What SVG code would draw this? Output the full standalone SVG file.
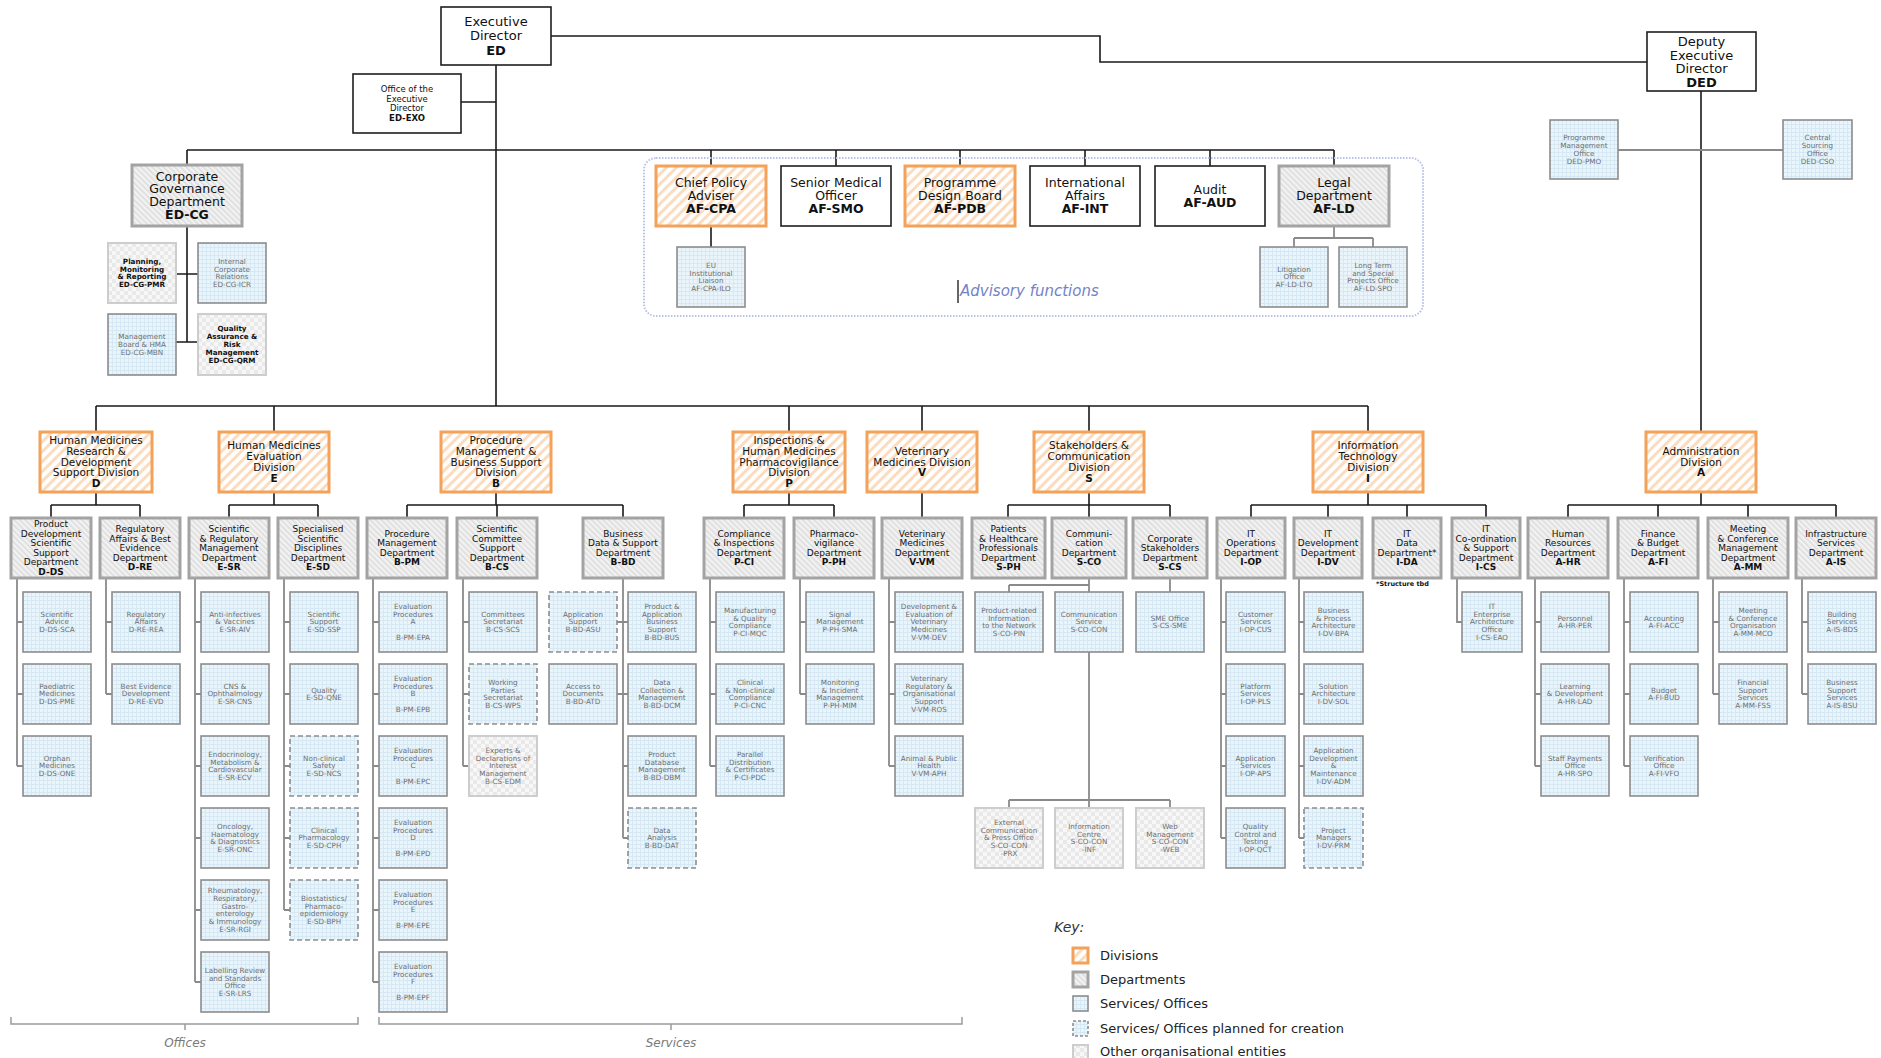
<svg xmlns="http://www.w3.org/2000/svg" width="1881" height="1058" viewBox="0 0 1881 1058">
<defs>
<pattern id="pDiv" patternUnits="userSpaceOnUse" width="7" height="7" patternTransform="rotate(45)"><rect width="7" height="7" fill="#fff"/><rect width="3" height="7" fill="#fcdcbf"/></pattern>
<pattern id="pDep" patternUnits="userSpaceOnUse" width="4" height="4" patternTransform="rotate(-45)"><rect width="4" height="4" fill="#f2f2f2"/><rect width="1.6" height="4" fill="#dddddd"/></pattern>
<pattern id="pSvc" patternUnits="userSpaceOnUse" width="4" height="4"><rect width="4" height="4" fill="#eaf5fb"/><path d="M0 .5H4M.5 0V4" stroke="#d5e8f3" stroke-width="1"/></pattern>
<pattern id="pOth" patternUnits="userSpaceOnUse" width="8" height="8"><rect width="8" height="8" fill="#f7f7f7"/><rect width="4" height="4" fill="#e9e9e9"/><rect x="4" y="4" width="4" height="4" fill="#e9e9e9"/></pattern>
</defs>
<style>
text{font-family:"DejaVu Sans",Verdana,sans-serif;text-anchor:middle}
.tp{fill:#fff;stroke:#1e1e1e;stroke-width:1.6}
.dv{fill:url(#pDiv);stroke:#f4a25a;stroke-width:3}
.dp{fill:url(#pDep);stroke:#a3a3a3;stroke-width:3}
.sv{fill:url(#pSvc);stroke:#8d8d8d;stroke-width:1.6}
.pl{fill:url(#pSvc);stroke:#8d8d8d;stroke-width:1.6;stroke-dasharray:5 3}
.ot{fill:url(#pOth);stroke:#cdcdcd;stroke-width:2}
.t13{font-size:13px;fill:#111}
.t12{font-size:12.5px;fill:#111}
.t9{font-size:8.5px;fill:#111}
.tdv{font-size:10.5px;fill:#111}
.tdp{font-size:9px;fill:#111}
.ts{font-size:7.2px;fill:#6e6e6e}
.tk{font-size:7.2px;fill:#111;font-weight:bold}
.b{font-weight:bold}
.c{stroke:#1a1a1a;stroke-width:1.6;fill:none}
.s{stroke:#8a8a8a;stroke-width:1.8;fill:none}
.br{stroke:#9c9c9c;stroke-width:1.5;fill:none}
.it{font-style:italic}
.lg{font-size:13px;fill:#222;text-anchor:start}
</style>

<g id="connectors">
<path class="c" d="M496 65V406M461 102H496M551 36H1100V62H1647M187 150H1334M187 150V165M711 150V166M836 150V166M960 150V166M1085 150V166M1210 150V166M1334 150V166M187 226V342M176 274H198M176 342H198M711 226V247M1701 91V432"/>
<path class="s" d="M1334 226V238M1294 238H1373M1294 238V247M1373 238V247M1618 150H1783"/>
<path class="c" d="M96 406H1368M96 406V432M274 406V432M789 406V432M922 406V432M1089 406V432M1368 406V432"/>
<path class="c" d="M96 492V505M51 505H140M51 505V518M140 505V518M274 492V505M229 505H318M229 505V518M318 505V518M496 492V505M407 505H623M407 505V518M497 505V518M623 505V518M789 492V505M744 505H834M744 505V518M834 505V518M922 492V518M1089 492V505M1008 505H1170M1008 505V518M1089 505V518M1170 505V518M1368 492V505M1251 505H1486M1251 505V518M1328 505V518M1407 505V518M1486 505V518M1701 492V505M1568 505H1836M1568 505V518M1658 505V518M1748 505V518M1836 505V518"/>
<path class="s" d="M17 578V766M17 622H23M17 694H23M17 766H23M106 578V694M106 622H112M106 694H112M195 578V982M195 622H201M195 694H201M195 766H201M195 838H201M195 910H201M195 982H201M284 578V910M284 622H290M284 694H290M284 766H290M284 838H290M284 910H290M373 578V982M373 622H379M373 694H379M373 766H379M373 838H379M373 910H379M373 982H379M463 578V766M463 622H469M463 694H469M463 766H469M623 578V838M623 622H628M623 694H628M623 766H628M623 838H628M617 622H623M617 694H623M710 578V766M710 622H716M710 694H716M710 766H716M800 578V694M800 622H806M800 694H806M889 578V766M889 622H895M889 694H895M889 766H895M1089 578V592M1009 585H1089M1009 585V592M1089 652V808M1009 800H1170M1009 800V808M1170 800V808M1170 578V592M1221 578V838M1221 622H1226M1221 694H1226M1221 766H1226M1221 838H1226M1299 578V838M1299 622H1304M1299 694H1304M1299 766H1304M1299 838H1304M1457 578V622H1462M1535 578V766M1535 622H1541M1535 694H1541M1535 766H1541M1624 578V766M1624 622H1630M1624 694H1630M1624 766H1630M1713 578V694M1713 622H1719M1713 694H1719M1802 578V694M1802 622H1808M1802 694H1808"/>
</g>

<!-- top level -->
<g id="n-ED" transform="translate(441,7)"><rect class="tp" width="110" height="58"/><text class="t13" y="18.5"><tspan x="55">Executive</tspan><tspan x="55" dy="14.5">Director</tspan><tspan x="55" dy="14.5" class="b">ED</tspan></text></g>
<g id="n-ED-EXO" transform="translate(353,74)"><rect class="tp" width="108" height="59"/><text class="t9" y="18"><tspan x="54">Office of the</tspan><tspan x="54" dy="9.5">Executive</tspan><tspan x="54" dy="9.5">Director</tspan><tspan x="54" dy="9.5" class="b">ED-EXO</tspan></text></g>
<g id="n-DED" transform="translate(1647,32)"><rect class="tp" width="109" height="59"/><text class="t13" y="14"><tspan x="54.5">Deputy</tspan><tspan x="54.5" dy="13.6">Executive</tspan><tspan x="54.5" dy="13.6">Director</tspan><tspan x="54.5" dy="13.6" class="b">DED</tspan></text></g>
<g id="n-DED-PMO" transform="translate(1550,120)"><rect class="sv" width="68" height="59"/><text class="ts" y="20.2"><tspan x="34">Programme</tspan><tspan x="34" dy="7.8">Management</tspan><tspan x="34" dy="7.8">Office</tspan><tspan x="34" dy="7.8">DED-PMO</tspan></text></g>
<g id="n-DED-CSO" transform="translate(1783,120)"><rect class="sv" width="69" height="59"/><text class="ts" y="20.2"><tspan x="34.5">Central</tspan><tspan x="34.5" dy="7.8">Sourcing</tspan><tspan x="34.5" dy="7.8">Office</tspan><tspan x="34.5" dy="7.8">DED-CSO</tspan></text></g>

<g id="n-ED-CG" transform="translate(132,165)"><rect class="dp" width="110" height="61"/><text class="t12" y="15.5"><tspan x="55">Corporate</tspan><tspan x="55" dy="12.8">Governance</tspan><tspan x="55" dy="12.8">Department</tspan><tspan x="55" dy="12.8" class="b">ED-CG</tspan></text></g>
<g id="n-ED-CG-PMR" transform="translate(108,243)"><rect class="ot" width="68" height="60"/><text class="tk" y="20.7"><tspan x="34">Planning,</tspan><tspan x="34" dy="7.8">Monitoring</tspan><tspan x="34" dy="7.8">&amp; Reporting</tspan><tspan x="34" dy="7.8">ED-CG-PMR</tspan></text></g>
<g id="n-ED-CG-ICR" transform="translate(198,243)"><rect class="sv" width="68" height="60"/><text class="ts" y="20.7"><tspan x="34">Internal</tspan><tspan x="34" dy="7.8">Corporate</tspan><tspan x="34" dy="7.8">Relations</tspan><tspan x="34" dy="7.8">ED-CG-ICR</tspan></text></g>
<g id="n-ED-CG-MBN" transform="translate(108,314)"><rect class="sv" width="68" height="61"/><text class="ts" y="25"><tspan x="34">Management</tspan><tspan x="34" dy="7.8">Board &amp; HMA</tspan><tspan x="34" dy="7.8">ED-CG-MBN</tspan></text></g>
<g id="n-ED-CG-QRM" transform="translate(198,314)"><rect class="ot" width="68" height="61"/><text class="tk" y="17.3"><tspan x="34">Quality</tspan><tspan x="34" dy="7.8">Assurance &amp;</tspan><tspan x="34" dy="7.8">Risk</tspan><tspan x="34" dy="7.8">Management</tspan><tspan x="34" dy="7.8">ED-CG-QRM</tspan></text></g>

<!-- advisory -->
<g id="advisory">
<rect x="644" y="158" width="779" height="158" rx="12" fill="none" stroke="#b9c1e6" stroke-width="2" stroke-dasharray="1.5 1.5"/>
<text x="960" y="296" class="it" style="font-size:15px;fill:#7383c9;text-anchor:start">Advisory functions</text>
<path d="M958 280V303" stroke="#333" stroke-width="1.5"/>
</g>
<g id="n-AF-CPA" transform="translate(656,166)"><rect class="dv" width="110" height="60"/><text class="t12" y="21"><tspan x="55">Chief Policy</tspan><tspan x="55" dy="13">Adviser</tspan><tspan x="55" dy="13" class="b">AF-CPA</tspan></text></g>
<g id="n-AF-SMO" transform="translate(781,166)"><rect class="tp" width="110" height="60"/><text class="t12" y="21"><tspan x="55">Senior Medical</tspan><tspan x="55" dy="13">Officer</tspan><tspan x="55" dy="13" class="b">AF-SMO</tspan></text></g>
<g id="n-AF-PDB" transform="translate(905,166)"><rect class="dv" width="110" height="60"/><text class="t12" y="21"><tspan x="55">Programme</tspan><tspan x="55" dy="13">Design Board</tspan><tspan x="55" dy="13" class="b">AF-PDB</tspan></text></g>
<g id="n-AF-INT" transform="translate(1030,166)"><rect class="tp" width="110" height="60"/><text class="t12" y="21"><tspan x="55">International</tspan><tspan x="55" dy="13">Affairs</tspan><tspan x="55" dy="13" class="b">AF-INT</tspan></text></g>
<g id="n-AF-AUD" transform="translate(1155,166)"><rect class="tp" width="110" height="60"/><text class="t12" y="28"><tspan x="55">Audit</tspan><tspan x="55" dy="13" class="b">AF-AUD</tspan></text></g>
<g id="n-AF-LD" transform="translate(1279,166)"><rect class="dp" width="110" height="60"/><text class="t12" y="21"><tspan x="55">Legal</tspan><tspan x="55" dy="13">Department</tspan><tspan x="55" dy="13" class="b">AF-LD</tspan></text></g>
<g id="n-AF-CPA-ILO" transform="translate(677,247)"><rect class="sv" width="68" height="60"/><text class="ts" y="20.7"><tspan x="34">EU</tspan><tspan x="34" dy="7.8">Institutional</tspan><tspan x="34" dy="7.8">Liaison</tspan><tspan x="34" dy="7.8">AF-CPA-ILO</tspan></text></g>
<g id="n-AF-LD-LTO" transform="translate(1260,247)"><rect class="sv" width="68" height="60"/><text class="ts" y="24.6"><tspan x="34">Litigation</tspan><tspan x="34" dy="7.8">Office</tspan><tspan x="34" dy="7.8">AF-LD-LTO</tspan></text></g>
<g id="n-AF-LD-SPO" transform="translate(1339,247)"><rect class="sv" width="68" height="60"/><text class="ts" y="20.7"><tspan x="34">Long Term</tspan><tspan x="34" dy="7.8">and Special</tspan><tspan x="34" dy="7.8">Projects Office</tspan><tspan x="34" dy="7.8">AF-LD-SPO</tspan></text></g>

<!-- divisions -->
<g id="n-D" transform="translate(40,432)"><rect class="dv" width="112" height="60"/><text class="tdv" y="11.9"><tspan x="56">Human Medicines</tspan><tspan x="56" dy="10.8">Research &amp;</tspan><tspan x="56" dy="10.8">Development</tspan><tspan x="56" dy="10.8">Support Division</tspan><tspan x="56" dy="10.8" class="b">D</tspan></text></g>
<g id="n-E" transform="translate(219,432)"><rect class="dv" width="110" height="60"/><text class="tdv" y="17.3"><tspan x="55">Human Medicines</tspan><tspan x="55" dy="10.8">Evaluation</tspan><tspan x="55" dy="10.8">Division</tspan><tspan x="55" dy="10.8" class="b">E</tspan></text></g>
<g id="n-B" transform="translate(441,432)"><rect class="dv" width="110" height="60"/><text class="tdv" y="11.9"><tspan x="55">Procedure</tspan><tspan x="55" dy="10.8">Management &amp;</tspan><tspan x="55" dy="10.8">Business Support</tspan><tspan x="55" dy="10.8">Division</tspan><tspan x="55" dy="10.8" class="b">B</tspan></text></g>
<g id="n-P" transform="translate(733,432)"><rect class="dv" width="112" height="60"/><text class="tdv" y="11.9"><tspan x="56">Inspections &amp;</tspan><tspan x="56" dy="10.8">Human Medicines</tspan><tspan x="56" dy="10.8">Pharmacovigilance</tspan><tspan x="56" dy="10.8">Division</tspan><tspan x="56" dy="10.8" class="b">P</tspan></text></g>
<g id="n-V" transform="translate(867,432)"><rect class="dv" width="110" height="60"/><text class="tdv" y="22.7"><tspan x="55">Veterinary</tspan><tspan x="55" dy="10.8">Medicines Division</tspan><tspan x="55" dy="10.8" class="b">V</tspan></text></g>
<g id="n-S" transform="translate(1034,432)"><rect class="dv" width="110" height="60"/><text class="tdv" y="17.3"><tspan x="55">Stakeholders &amp;</tspan><tspan x="55" dy="10.8">Communication</tspan><tspan x="55" dy="10.8">Division</tspan><tspan x="55" dy="10.8" class="b">S</tspan></text></g>
<g id="n-I" transform="translate(1313,432)"><rect class="dv" width="110" height="60"/><text class="tdv" y="17.3"><tspan x="55">Information</tspan><tspan x="55" dy="10.8">Technology</tspan><tspan x="55" dy="10.8">Division</tspan><tspan x="55" dy="10.8" class="b">I</tspan></text></g>
<g id="n-A" transform="translate(1646,432)"><rect class="dv" width="110" height="60"/><text class="tdv" y="22.7"><tspan x="55">Administration</tspan><tspan x="55" dy="10.8">Division</tspan><tspan x="55" dy="10.8" class="b">A</tspan></text></g>

<!-- departments -->
<g id="n-D-DS" transform="translate(11,518)"><rect class="dp" width="80" height="60"/><text class="tdp" y="9.3"><tspan x="40">Product</tspan><tspan x="40" dy="9.5">Development</tspan><tspan x="40" dy="9.5">Scientific</tspan><tspan x="40" dy="9.5">Support</tspan><tspan x="40" dy="9.5">Department</tspan><tspan x="40" dy="9.5" class="b">D-DS</tspan></text></g>
<g id="n-D-RE" transform="translate(100,518)"><rect class="dp" width="80" height="60"/><text class="tdp" y="14"><tspan x="40">Regulatory</tspan><tspan x="40" dy="9.5">Affairs &amp; Best</tspan><tspan x="40" dy="9.5">Evidence</tspan><tspan x="40" dy="9.5">Department</tspan><tspan x="40" dy="9.5" class="b">D-RE</tspan></text></g>
<g id="n-E-SR" transform="translate(189,518)"><rect class="dp" width="80" height="60"/><text class="tdp" y="14"><tspan x="40">Scientific</tspan><tspan x="40" dy="9.5">&amp; Regulatory</tspan><tspan x="40" dy="9.5">Management</tspan><tspan x="40" dy="9.5">Department</tspan><tspan x="40" dy="9.5" class="b">E-SR</tspan></text></g>
<g id="n-E-SD" transform="translate(278,518)"><rect class="dp" width="80" height="60"/><text class="tdp" y="14"><tspan x="40">Specialised</tspan><tspan x="40" dy="9.5">Scientific</tspan><tspan x="40" dy="9.5">Disciplines</tspan><tspan x="40" dy="9.5">Department</tspan><tspan x="40" dy="9.5" class="b">E-SD</tspan></text></g>
<g id="n-B-PM" transform="translate(367,518)"><rect class="dp" width="80" height="60"/><text class="tdp" y="18.8"><tspan x="40">Procedure</tspan><tspan x="40" dy="9.5">Management</tspan><tspan x="40" dy="9.5">Department</tspan><tspan x="40" dy="9.5" class="b">B-PM</tspan></text></g>
<g id="n-B-CS" transform="translate(457,518)"><rect class="dp" width="80" height="60"/><text class="tdp" y="14"><tspan x="40">Scientific</tspan><tspan x="40" dy="9.5">Committee</tspan><tspan x="40" dy="9.5">Support</tspan><tspan x="40" dy="9.5">Department</tspan><tspan x="40" dy="9.5" class="b">B-CS</tspan></text></g>
<g id="n-B-BD" transform="translate(583,518)"><rect class="dp" width="80" height="60"/><text class="tdp" y="18.8"><tspan x="40">Business</tspan><tspan x="40" dy="9.5">Data &amp; Support</tspan><tspan x="40" dy="9.5">Department</tspan><tspan x="40" dy="9.5" class="b">B-BD</tspan></text></g>
<g id="n-P-CI" transform="translate(704,518)"><rect class="dp" width="80" height="60"/><text class="tdp" y="18.8"><tspan x="40">Compliance</tspan><tspan x="40" dy="9.5">&amp; Inspections</tspan><tspan x="40" dy="9.5">Department</tspan><tspan x="40" dy="9.5" class="b">P-CI</tspan></text></g>
<g id="n-P-PH" transform="translate(794,518)"><rect class="dp" width="80" height="60"/><text class="tdp" y="18.8"><tspan x="40">Pharmaco-</tspan><tspan x="40" dy="9.5">vigilance</tspan><tspan x="40" dy="9.5">Department</tspan><tspan x="40" dy="9.5" class="b">P-PH</tspan></text></g>
<g id="n-V-VM" transform="translate(882,518)"><rect class="dp" width="80" height="60"/><text class="tdp" y="18.8"><tspan x="40">Veterinary</tspan><tspan x="40" dy="9.5">Medicines</tspan><tspan x="40" dy="9.5">Department</tspan><tspan x="40" dy="9.5" class="b">V-VM</tspan></text></g>
<g id="n-S-PH" transform="translate(972,518)"><rect class="dp" width="73" height="60"/><text class="tdp" y="14"><tspan x="36.5">Patients</tspan><tspan x="36.5" dy="9.5">&amp; Healthcare</tspan><tspan x="36.5" dy="9.5">Professionals</tspan><tspan x="36.5" dy="9.5">Department</tspan><tspan x="36.5" dy="9.5" class="b">S-PH</tspan></text></g>
<g id="n-S-CO" transform="translate(1052,518)"><rect class="dp" width="74" height="60"/><text class="tdp" y="18.8"><tspan x="37">Communi-</tspan><tspan x="37" dy="9.5">cation</tspan><tspan x="37" dy="9.5">Department</tspan><tspan x="37" dy="9.5" class="b">S-CO</tspan></text></g>
<g id="n-S-CS" transform="translate(1133,518)"><rect class="dp" width="74" height="60"/><text class="tdp" y="23.5"><tspan x="37">Corporate</tspan><tspan x="37" dy="9.5">Stakeholders</tspan><tspan x="37" dy="9.5">Department</tspan><tspan x="37" dy="9.5" class="b">S-CS</tspan></text></g>
<g id="n-I-OP" transform="translate(1217,518)"><rect class="dp" width="68" height="60"/><text class="tdp" y="18.8"><tspan x="34">IT</tspan><tspan x="34" dy="9.5">Operations</tspan><tspan x="34" dy="9.5">Department</tspan><tspan x="34" dy="9.5" class="b">I-OP</tspan></text></g>
<g id="n-I-DV" transform="translate(1294,518)"><rect class="dp" width="68" height="60"/><text class="tdp" y="18.8"><tspan x="34">IT</tspan><tspan x="34" dy="9.5">Development</tspan><tspan x="34" dy="9.5">Department</tspan><tspan x="34" dy="9.5" class="b">I-DV</tspan></text></g>
<g id="n-I-DA" transform="translate(1373,518)"><rect class="dp" width="68" height="60"/><text class="tdp" y="18.8"><tspan x="34">IT</tspan><tspan x="34" dy="9.5">Data</tspan><tspan x="34" dy="9.5">Department*</tspan><tspan x="34" dy="9.5" class="b">I-DA</tspan></text><text x="3" y="68" style="font-size:6.5px;font-weight:bold;fill:#111;text-anchor:start">*Structure tbd</text></g>
<g id="n-I-CS" transform="translate(1452,518)"><rect class="dp" width="68" height="60"/><text class="tdp" y="14"><tspan x="34">IT</tspan><tspan x="34" dy="9.5">Co-ordination</tspan><tspan x="34" dy="9.5">&amp; Support</tspan><tspan x="34" dy="9.5">Department</tspan><tspan x="34" dy="9.5" class="b">I-CS</tspan></text></g>
<g id="n-A-HR" transform="translate(1528,518)"><rect class="dp" width="80" height="60"/><text class="tdp" y="18.8"><tspan x="40">Human</tspan><tspan x="40" dy="9.5">Resources</tspan><tspan x="40" dy="9.5">Department</tspan><tspan x="40" dy="9.5" class="b">A-HR</tspan></text></g>
<g id="n-A-FI" transform="translate(1618,518)"><rect class="dp" width="80" height="60"/><text class="tdp" y="18.8"><tspan x="40">Finance</tspan><tspan x="40" dy="9.5">&amp; Budget</tspan><tspan x="40" dy="9.5">Department</tspan><tspan x="40" dy="9.5" class="b">A-FI</tspan></text></g>
<g id="n-A-MM" transform="translate(1708,518)"><rect class="dp" width="80" height="60"/><text class="tdp" y="14"><tspan x="40">Meeting</tspan><tspan x="40" dy="9.5">&amp; Conference</tspan><tspan x="40" dy="9.5">Management</tspan><tspan x="40" dy="9.5">Department</tspan><tspan x="40" dy="9.5" class="b">A-MM</tspan></text></g>
<g id="n-A-IS" transform="translate(1796,518)"><rect class="dp" width="80" height="60"/><text class="tdp" y="18.8"><tspan x="40">Infrastructure</tspan><tspan x="40" dy="9.5">Services</tspan><tspan x="40" dy="9.5">Department</tspan><tspan x="40" dy="9.5" class="b">A-IS</tspan></text></g>

<!-- services D -->
<g id="n-D-DS-SCA" transform="translate(23,592)"><rect class="sv" width="68" height="60"/><text class="ts" y="24.6"><tspan x="34">Scientific</tspan><tspan x="34" dy="7.8">Advice</tspan><tspan x="34" dy="7.8">D-DS-SCA</tspan></text></g>
<g id="n-D-DS-PME" transform="translate(23,664)"><rect class="sv" width="68" height="60"/><text class="ts" y="24.6"><tspan x="34">Paediatric</tspan><tspan x="34" dy="7.8">Medicines</tspan><tspan x="34" dy="7.8">D-DS-PME</tspan></text></g>
<g id="n-D-DS-ONE" transform="translate(23,736)"><rect class="sv" width="68" height="60"/><text class="ts" y="24.6"><tspan x="34">Orphan</tspan><tspan x="34" dy="7.8">Medicines</tspan><tspan x="34" dy="7.8">D-DS-ONE</tspan></text></g>
<g id="n-D-RE-REA" transform="translate(112,592)"><rect class="sv" width="68" height="60"/><text class="ts" y="24.6"><tspan x="34">Regulatory</tspan><tspan x="34" dy="7.8">Affairs</tspan><tspan x="34" dy="7.8">D-RE-REA</tspan></text></g>
<g id="n-D-RE-EVD" transform="translate(112,664)"><rect class="sv" width="68" height="60"/><text class="ts" y="24.6"><tspan x="34">Best Evidence</tspan><tspan x="34" dy="7.8">Development</tspan><tspan x="34" dy="7.8">D-RE-EVD</tspan></text></g>
<!-- E -->
<g id="n-E-SR-AIV" transform="translate(201,592)"><rect class="sv" width="68" height="60"/><text class="ts" y="24.6"><tspan x="34">Anti-infectives</tspan><tspan x="34" dy="7.8">&amp; Vaccines</tspan><tspan x="34" dy="7.8">E-SR-AIV</tspan></text></g>
<g id="n-E-SR-CNS" transform="translate(201,664)"><rect class="sv" width="68" height="60"/><text class="ts" y="24.6"><tspan x="34">CNS &amp;</tspan><tspan x="34" dy="7.8">Ophthalmology</tspan><tspan x="34" dy="7.8">E-SR-CNS</tspan></text></g>
<g id="n-E-SR-ECV" transform="translate(201,736)"><rect class="sv" width="68" height="60"/><text class="ts" y="20.7"><tspan x="34">Endocrinology,</tspan><tspan x="34" dy="7.8">Metabolism &amp;</tspan><tspan x="34" dy="7.8">Cardiovascular</tspan><tspan x="34" dy="7.8">E-SR-ECV</tspan></text></g>
<g id="n-E-SR-ONC" transform="translate(201,808)"><rect class="sv" width="68" height="60"/><text class="ts" y="20.7"><tspan x="34">Oncology,</tspan><tspan x="34" dy="7.8">Haematology</tspan><tspan x="34" dy="7.8">&amp; Diagnostics</tspan><tspan x="34" dy="7.8">E-SR-ONC</tspan></text></g>
<g id="n-E-SR-RGI" transform="translate(201,880)"><rect class="sv" width="68" height="60"/><text class="ts" y="12.9"><tspan x="34">Rheumatology,</tspan><tspan x="34" dy="7.8">Respiratory,</tspan><tspan x="34" dy="7.8">Gastro-</tspan><tspan x="34" dy="7.8">enterology</tspan><tspan x="34" dy="7.8">&amp; Immunology</tspan><tspan x="34" dy="7.8">E-SR-RGI</tspan></text></g>
<g id="n-E-SR-LRS" transform="translate(201,952)"><rect class="sv" width="68" height="60"/><text class="ts" y="20.7"><tspan x="34">Labelling Review</tspan><tspan x="34" dy="7.8">and Standards</tspan><tspan x="34" dy="7.8">Office</tspan><tspan x="34" dy="7.8">E-SR-LRS</tspan></text></g>
<g id="n-E-SD-SSP" transform="translate(290,592)"><rect class="sv" width="68" height="60"/><text class="ts" y="24.6"><tspan x="34">Scientific</tspan><tspan x="34" dy="7.8">Support</tspan><tspan x="34" dy="7.8">E-SD-SSP</tspan></text></g>
<g id="n-E-SD-QNE" transform="translate(290,664)"><rect class="sv" width="68" height="60"/><text class="ts" y="28.5"><tspan x="34">Quality</tspan><tspan x="34" dy="7.8">E-SD-QNE</tspan></text></g>
<g id="n-E-SD-NCS" transform="translate(290,736)"><rect class="pl" width="68" height="60"/><text class="ts" y="24.6"><tspan x="34">Non-clinical</tspan><tspan x="34" dy="7.8">Safety</tspan><tspan x="34" dy="7.8">E-SD-NCS</tspan></text></g>
<g id="n-E-SD-CPH" transform="translate(290,808)"><rect class="pl" width="68" height="60"/><text class="ts" y="24.6"><tspan x="34">Clinical</tspan><tspan x="34" dy="7.8">Pharmacology</tspan><tspan x="34" dy="7.8">E-SD-CPH</tspan></text></g>
<g id="n-E-SD-BPH" transform="translate(290,880)"><rect class="pl" width="68" height="60"/><text class="ts" y="20.7"><tspan x="34">Biostatistics/</tspan><tspan x="34" dy="7.8">Pharmaco-</tspan><tspan x="34" dy="7.8">epidemiology</tspan><tspan x="34" dy="7.8">E-SD-BPH</tspan></text></g>
<!-- B -->
<g id="n-B-PM-EPA" transform="translate(379,592)"><rect class="sv" width="68" height="60"/><text class="ts" y="16.8"><tspan x="34">Evaluation</tspan><tspan x="34" dy="7.8">Procedures</tspan><tspan x="34" dy="7.8">A</tspan><tspan x="34" dy="15.6">B-PM-EPA</tspan></text></g>
<g id="n-B-PM-EPB" transform="translate(379,664)"><rect class="sv" width="68" height="60"/><text class="ts" y="16.8"><tspan x="34">Evaluation</tspan><tspan x="34" dy="7.8">Procedures</tspan><tspan x="34" dy="7.8">B</tspan><tspan x="34" dy="15.6">B-PM-EPB</tspan></text></g>
<g id="n-B-PM-EPC" transform="translate(379,736)"><rect class="sv" width="68" height="60"/><text class="ts" y="16.8"><tspan x="34">Evaluation</tspan><tspan x="34" dy="7.8">Procedures</tspan><tspan x="34" dy="7.8">C</tspan><tspan x="34" dy="15.6">B-PM-EPC</tspan></text></g>
<g id="n-B-PM-EPD" transform="translate(379,808)"><rect class="sv" width="68" height="60"/><text class="ts" y="16.8"><tspan x="34">Evaluation</tspan><tspan x="34" dy="7.8">Procedures</tspan><tspan x="34" dy="7.8">D</tspan><tspan x="34" dy="15.6">B-PM-EPD</tspan></text></g>
<g id="n-B-PM-EPE" transform="translate(379,880)"><rect class="sv" width="68" height="60"/><text class="ts" y="16.8"><tspan x="34">Evaluation</tspan><tspan x="34" dy="7.8">Procedures</tspan><tspan x="34" dy="7.8">E</tspan><tspan x="34" dy="15.6">B-PM-EPE</tspan></text></g>
<g id="n-B-PM-EPF" transform="translate(379,952)"><rect class="sv" width="68" height="60"/><text class="ts" y="16.8"><tspan x="34">Evaluation</tspan><tspan x="34" dy="7.8">Procedures</tspan><tspan x="34" dy="7.8">F</tspan><tspan x="34" dy="15.6">B-PM-EPF</tspan></text></g>
<g id="n-B-CS-SCS" transform="translate(469,592)"><rect class="sv" width="68" height="60"/><text class="ts" y="24.6"><tspan x="34">Committees</tspan><tspan x="34" dy="7.8">Secretariat</tspan><tspan x="34" dy="7.8">B-CS-SCS</tspan></text></g>
<g id="n-B-CS-WPS" transform="translate(469,664)"><rect class="pl" width="68" height="60"/><text class="ts" y="20.7"><tspan x="34">Working</tspan><tspan x="34" dy="7.8">Parties</tspan><tspan x="34" dy="7.8">Secretariat</tspan><tspan x="34" dy="7.8">B-CS-WPS</tspan></text></g>
<g id="n-B-CS-EDM" transform="translate(469,736)"><rect class="ot" width="68" height="60"/><text class="ts" y="16.8"><tspan x="34">Experts &amp;</tspan><tspan x="34" dy="7.8">Declarations of</tspan><tspan x="34" dy="7.8">Interest</tspan><tspan x="34" dy="7.8">Management</tspan><tspan x="34" dy="7.8">B-CS-EDM</tspan></text></g>
<g id="n-B-BD-ASU" transform="translate(549,592)"><rect class="pl" width="68" height="60"/><text class="ts" y="24.6"><tspan x="34">Application</tspan><tspan x="34" dy="7.8">Support</tspan><tspan x="34" dy="7.8">B-BD-ASU</tspan></text></g>
<g id="n-B-BD-ATD" transform="translate(549,664)"><rect class="sv" width="68" height="60"/><text class="ts" y="24.6"><tspan x="34">Access to</tspan><tspan x="34" dy="7.8">Documents</tspan><tspan x="34" dy="7.8">B-BD-ATD</tspan></text></g>
<g id="n-B-BD-BUS" transform="translate(628,592)"><rect class="sv" width="68" height="60"/><text class="ts" y="16.8"><tspan x="34">Product &amp;</tspan><tspan x="34" dy="7.8">Application</tspan><tspan x="34" dy="7.8">Business</tspan><tspan x="34" dy="7.8">Support</tspan><tspan x="34" dy="7.8">B-BD-BUS</tspan></text></g>
<g id="n-B-BD-DCM" transform="translate(628,664)"><rect class="sv" width="68" height="60"/><text class="ts" y="20.7"><tspan x="34">Data</tspan><tspan x="34" dy="7.8">Collection &amp;</tspan><tspan x="34" dy="7.8">Management</tspan><tspan x="34" dy="7.8">B-BD-DCM</tspan></text></g>
<g id="n-B-BD-DBM" transform="translate(628,736)"><rect class="sv" width="68" height="60"/><text class="ts" y="20.7"><tspan x="34">Product</tspan><tspan x="34" dy="7.8">Database</tspan><tspan x="34" dy="7.8">Management</tspan><tspan x="34" dy="7.8">B-BD-DBM</tspan></text></g>
<g id="n-B-BD-DAT" transform="translate(628,808)"><rect class="pl" width="68" height="60"/><text class="ts" y="24.6"><tspan x="34">Data</tspan><tspan x="34" dy="7.8">Analysis</tspan><tspan x="34" dy="7.8">B-BD-DAT</tspan></text></g>
<!-- P -->
<g id="n-P-CI-MQC" transform="translate(716,592)"><rect class="sv" width="68" height="60"/><text class="ts" y="20.7"><tspan x="34">Manufacturing</tspan><tspan x="34" dy="7.8">&amp; Quality</tspan><tspan x="34" dy="7.8">Compliance</tspan><tspan x="34" dy="7.8">P-CI-MQC</tspan></text></g>
<g id="n-P-CI-CNC" transform="translate(716,664)"><rect class="sv" width="68" height="60"/><text class="ts" y="20.7"><tspan x="34">Clinical</tspan><tspan x="34" dy="7.8">&amp; Non-clinical</tspan><tspan x="34" dy="7.8">Compliance</tspan><tspan x="34" dy="7.8">P-CI-CNC</tspan></text></g>
<g id="n-P-CI-PDC" transform="translate(716,736)"><rect class="sv" width="68" height="60"/><text class="ts" y="20.7"><tspan x="34">Parallel</tspan><tspan x="34" dy="7.8">Distribution</tspan><tspan x="34" dy="7.8">&amp; Certificates</tspan><tspan x="34" dy="7.8">P-CI-PDC</tspan></text></g>
<g id="n-P-PH-SMA" transform="translate(806,592)"><rect class="sv" width="68" height="60"/><text class="ts" y="24.6"><tspan x="34">Signal</tspan><tspan x="34" dy="7.8">Management</tspan><tspan x="34" dy="7.8">P-PH-SMA</tspan></text></g>
<g id="n-P-PH-MIM" transform="translate(806,664)"><rect class="sv" width="68" height="60"/><text class="ts" y="20.7"><tspan x="34">Monitoring</tspan><tspan x="34" dy="7.8">&amp; Incident</tspan><tspan x="34" dy="7.8">Management</tspan><tspan x="34" dy="7.8">P-PH-MIM</tspan></text></g>
<!-- V -->
<g id="n-V-VM-DEV" transform="translate(895,592)"><rect class="sv" width="68" height="60"/><text class="ts" y="16.8"><tspan x="34">Development &amp;</tspan><tspan x="34" dy="7.8">Evaluation of</tspan><tspan x="34" dy="7.8">Veterinary</tspan><tspan x="34" dy="7.8">Medicines</tspan><tspan x="34" dy="7.8">V-VM-DEV</tspan></text></g>
<g id="n-V-VM-ROS" transform="translate(895,664)"><rect class="sv" width="68" height="60"/><text class="ts" y="16.8"><tspan x="34">Veterinary</tspan><tspan x="34" dy="7.8">Regulatory &amp;</tspan><tspan x="34" dy="7.8">Organisational</tspan><tspan x="34" dy="7.8">Support</tspan><tspan x="34" dy="7.8">V-VM-ROS</tspan></text></g>
<g id="n-V-VM-APH" transform="translate(895,736)"><rect class="sv" width="68" height="60"/><text class="ts" y="24.6"><tspan x="34">Animal &amp; Public</tspan><tspan x="34" dy="7.8">Health</tspan><tspan x="34" dy="7.8">V-VM-APH</tspan></text></g>
<!-- S -->
<g id="n-S-CO-PIN" transform="translate(975,592)"><rect class="sv" width="68" height="60"/><text class="ts" y="20.7"><tspan x="34">Product-related</tspan><tspan x="34" dy="7.8">Information</tspan><tspan x="34" dy="7.8">to the Network</tspan><tspan x="34" dy="7.8">S-CO-PIN</tspan></text></g>
<g id="n-S-CO-CON" transform="translate(1055,592)"><rect class="sv" width="68" height="60"/><text class="ts" y="24.6"><tspan x="34">Communication</tspan><tspan x="34" dy="7.8">Service</tspan><tspan x="34" dy="7.8">S-CO-CON</tspan></text></g>
<g id="n-S-CS-SME" transform="translate(1136,592)"><rect class="sv" width="68" height="60"/><text class="ts" y="28.5"><tspan x="34">SME Office</tspan><tspan x="34" dy="7.8">S-CS-SME</tspan></text></g>
<g id="n-S-CO-CON-PRX" transform="translate(975,808)"><rect class="ot" width="68" height="60"/><text class="ts" y="16.8"><tspan x="34">External</tspan><tspan x="34" dy="7.8">Communication</tspan><tspan x="34" dy="7.8">&amp; Press Office</tspan><tspan x="34" dy="7.8">S-CO-CON</tspan><tspan x="34" dy="7.8">-PRX</tspan></text></g>
<g id="n-S-CO-CON-INF" transform="translate(1055,808)"><rect class="ot" width="68" height="60"/><text class="ts" y="20.7"><tspan x="34">Information</tspan><tspan x="34" dy="7.8">Centre</tspan><tspan x="34" dy="7.8">S-CO-CON</tspan><tspan x="34" dy="7.8">-INF</tspan></text></g>
<g id="n-S-CO-CON-WEB" transform="translate(1136,808)"><rect class="ot" width="68" height="60"/><text class="ts" y="20.7"><tspan x="34">Web</tspan><tspan x="34" dy="7.8">Management</tspan><tspan x="34" dy="7.8">S-CO-CON</tspan><tspan x="34" dy="7.8">-WEB</tspan></text></g>
<!-- I -->
<g id="n-I-OP-CUS" transform="translate(1226,592)"><rect class="sv" width="59" height="60"/><text class="ts" y="24.6"><tspan x="29.5">Customer</tspan><tspan x="29.5" dy="7.8">Services</tspan><tspan x="29.5" dy="7.8">I-OP-CUS</tspan></text></g>
<g id="n-I-OP-PLS" transform="translate(1226,664)"><rect class="sv" width="59" height="60"/><text class="ts" y="24.6"><tspan x="29.5">Platform</tspan><tspan x="29.5" dy="7.8">Services</tspan><tspan x="29.5" dy="7.8">I-OP-PLS</tspan></text></g>
<g id="n-I-OP-APS" transform="translate(1226,736)"><rect class="sv" width="59" height="60"/><text class="ts" y="24.6"><tspan x="29.5">Application</tspan><tspan x="29.5" dy="7.8">Services</tspan><tspan x="29.5" dy="7.8">I-OP-APS</tspan></text></g>
<g id="n-I-OP-QCT" transform="translate(1226,808)"><rect class="sv" width="59" height="60"/><text class="ts" y="20.7"><tspan x="29.5">Quality</tspan><tspan x="29.5" dy="7.8">Control and</tspan><tspan x="29.5" dy="7.8">Testing</tspan><tspan x="29.5" dy="7.8">I-OP-QCT</tspan></text></g>
<g id="n-I-DV-BPA" transform="translate(1304,592)"><rect class="sv" width="59" height="60"/><text class="ts" y="20.7"><tspan x="29.5">Business</tspan><tspan x="29.5" dy="7.8">&amp; Process</tspan><tspan x="29.5" dy="7.8">Architecture</tspan><tspan x="29.5" dy="7.8">I-DV-BPA</tspan></text></g>
<g id="n-I-DV-SOL" transform="translate(1304,664)"><rect class="sv" width="59" height="60"/><text class="ts" y="24.6"><tspan x="29.5">Solution</tspan><tspan x="29.5" dy="7.8">Architecture</tspan><tspan x="29.5" dy="7.8">I-DV-SOL</tspan></text></g>
<g id="n-I-DV-ADM" transform="translate(1304,736)"><rect class="sv" width="59" height="60"/><text class="ts" y="16.8"><tspan x="29.5">Application</tspan><tspan x="29.5" dy="7.8">Development</tspan><tspan x="29.5" dy="7.8">&amp;</tspan><tspan x="29.5" dy="7.8">Maintenance</tspan><tspan x="29.5" dy="7.8">I-DV-ADM</tspan></text></g>
<g id="n-I-DV-PRM" transform="translate(1304,808)"><rect class="pl" width="59" height="60"/><text class="ts" y="24.6"><tspan x="29.5">Project</tspan><tspan x="29.5" dy="7.8">Managers</tspan><tspan x="29.5" dy="7.8">I-DV-PRM</tspan></text></g>
<g id="n-I-CS-EAO" transform="translate(1462,592)"><rect class="sv" width="60" height="60"/><text class="ts" y="16.8"><tspan x="30">IT</tspan><tspan x="30" dy="7.8">Enterprise</tspan><tspan x="30" dy="7.8">Architecture</tspan><tspan x="30" dy="7.8">Office</tspan><tspan x="30" dy="7.8">I-CS-EAO</tspan></text></g>
<!-- A -->
<g id="n-A-HR-PER" transform="translate(1541,592)"><rect class="sv" width="68" height="60"/><text class="ts" y="28.5"><tspan x="34">Personnel</tspan><tspan x="34" dy="7.8">A-HR-PER</tspan></text></g>
<g id="n-A-HR-LAD" transform="translate(1541,664)"><rect class="sv" width="68" height="60"/><text class="ts" y="24.6"><tspan x="34">Learning</tspan><tspan x="34" dy="7.8">&amp; Development</tspan><tspan x="34" dy="7.8">A-HR-LAD</tspan></text></g>
<g id="n-A-HR-SPO" transform="translate(1541,736)"><rect class="sv" width="68" height="60"/><text class="ts" y="24.6"><tspan x="34">Staff Payments</tspan><tspan x="34" dy="7.8">Office</tspan><tspan x="34" dy="7.8">A-HR-SPO</tspan></text></g>
<g id="n-A-FI-ACC" transform="translate(1630,592)"><rect class="sv" width="68" height="60"/><text class="ts" y="28.5"><tspan x="34">Accounting</tspan><tspan x="34" dy="7.8">A-FI-ACC</tspan></text></g>
<g id="n-A-FI-BUD" transform="translate(1630,664)"><rect class="sv" width="68" height="60"/><text class="ts" y="28.5"><tspan x="34">Budget</tspan><tspan x="34" dy="7.8">A-FI-BUD</tspan></text></g>
<g id="n-A-FI-VFO" transform="translate(1630,736)"><rect class="sv" width="68" height="60"/><text class="ts" y="24.6"><tspan x="34">Verification</tspan><tspan x="34" dy="7.8">Office</tspan><tspan x="34" dy="7.8">A-FI-VFO</tspan></text></g>
<g id="n-A-MM-MCO" transform="translate(1719,592)"><rect class="sv" width="68" height="60"/><text class="ts" y="20.7"><tspan x="34">Meeting</tspan><tspan x="34" dy="7.8">&amp; Conference</tspan><tspan x="34" dy="7.8">Organisation</tspan><tspan x="34" dy="7.8">A-MM-MCO</tspan></text></g>
<g id="n-A-MM-FSS" transform="translate(1719,664)"><rect class="sv" width="68" height="60"/><text class="ts" y="20.7"><tspan x="34">Financial</tspan><tspan x="34" dy="7.8">Support</tspan><tspan x="34" dy="7.8">Services</tspan><tspan x="34" dy="7.8">A-MM-FSS</tspan></text></g>
<g id="n-A-IS-BDS" transform="translate(1808,592)"><rect class="sv" width="68" height="60"/><text class="ts" y="24.6"><tspan x="34">Building</tspan><tspan x="34" dy="7.8">Services</tspan><tspan x="34" dy="7.8">A-IS-BDS</tspan></text></g>
<g id="n-A-IS-BSU" transform="translate(1808,664)"><rect class="sv" width="68" height="60"/><text class="ts" y="20.7"><tspan x="34">Business</tspan><tspan x="34" dy="7.8">Support</tspan><tspan x="34" dy="7.8">Services</tspan><tspan x="34" dy="7.8">A-IS-BSU</tspan></text></g>

<!-- brackets -->
<g id="brackets">
<path class="br" d="M11 1017V1024H358V1017M185 1024V1030M379 1017V1024H962V1017M671 1024V1030"/>
<text x="185" y="1047" class="it" style="font-size:12px;fill:#7a7a7a">Offices</text>
<text x="671" y="1047" class="it" style="font-size:12px;fill:#7a7a7a">Services</text>
</g>

<!-- key -->
<g id="key">
<text x="1054" y="932" class="it" style="font-size:14px;fill:#333;text-anchor:start">Key:</text>
<rect x="1073" y="948" width="15" height="15" class="dv"/>
<rect x="1073" y="972" width="15" height="15" class="dp"/>
<rect x="1073" y="996" width="15" height="15" class="sv"/>
<rect x="1073" y="1021" width="15" height="15" class="pl" style="stroke-dasharray:3 2"/>
<rect x="1073" y="1045" width="15" height="15" class="ot"/>
<text x="1100" y="960" class="lg">Divisions</text>
<text x="1100" y="984" class="lg">Departments</text>
<text x="1100" y="1008" class="lg">Services/ Offices</text>
<text x="1100" y="1033" class="lg">Services/ Offices planned for creation</text>
<text x="1100" y="1056" class="lg">Other organisational entities</text>
</g>
</svg>
